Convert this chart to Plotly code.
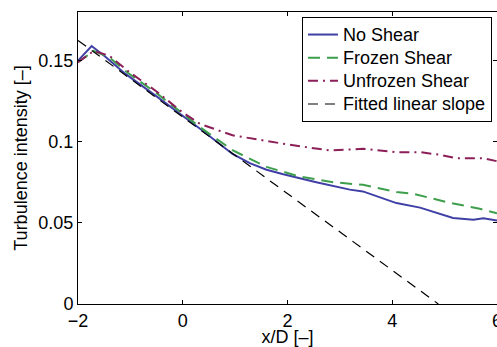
import plotly.graph_objects as go

# ---- data ----
x_no_shear = [-2, -1.74, -1.5, -1.1, -0.5, 0, 0.33, 0.95, 1.28, 1.6, 1.92, 2.55, 2.81, 3.19, 3.44, 4.08, 4.53, 5.16, 5.55, 5.74, 6]
y_no_shear = [0.150, 0.159, 0.153, 0.142, 0.128, 0.116, 0.108, 0.0925, 0.0868, 0.0828, 0.080, 0.0751, 0.0731, 0.0705, 0.0694, 0.0622, 0.0594, 0.053, 0.052, 0.0528, 0.0515]

x_frozen = [-2, -1.7, -1.4, -1.05, -0.5, 0, 0.33, 0.95, 1.6, 2.24, 2.87, 3.19, 3.44, 4.08, 4.4, 5.04, 5.67, 6]
y_frozen = [0.149, 0.156, 0.152, 0.1425, 0.130, 0.117, 0.109, 0.0948, 0.0845, 0.0785, 0.0751, 0.0741, 0.0735, 0.069, 0.068, 0.0628, 0.0587, 0.056]

x_unfrozen = [-2, -1.7, -1.4, -1.05, -0.5, 0, 0.33, 0.95, 1.92, 2.81, 3.44, 4.08, 4.53, 4.91, 5.23, 5.74, 6]
y_unfrozen = [0.149, 0.156, 0.153, 0.1437, 0.131, 0.118, 0.111, 0.104, 0.0988, 0.0946, 0.0957, 0.0936, 0.0936, 0.092, 0.0899, 0.0899, 0.088]

x_fit = [-2, 4.88]
y_fit = [0.1625, 0.0]

x_ticks = [-2, 0, 2, 4, 6]
x_tick_text = ["\u22122", "0", "2", "4", "6"]
y_ticks = [0, 0.05, 0.1, 0.15]
y_tick_text = ["0", "0.05", "0.1", "0.15"]

FONT = "Liberation Sans"


def legend_name(s):
    return '<span style="font-size:18px">' + s + '</span>'


fig = go.Figure()
fig.add_trace(go.Scatter(x=x_no_shear, y=y_no_shear, mode="lines", name=legend_name("No Shear"),
                         line=dict(color="#3f3fa6", width=2)))
fig.add_trace(go.Scatter(x=x_frozen, y=y_frozen, mode="lines", name=legend_name("Frozen Shear"),
                         line=dict(color="#3d9f4c", width=2, dash="12px,7px")))
fig.add_trace(go.Scatter(x=x_unfrozen, y=y_unfrozen, mode="lines", name=legend_name("Unfrozen Shear"),
                         line=dict(color="#8c1f58", width=2, dash="10px,5px,2px,5px")))
fig.add_trace(go.Scatter(x=x_fit, y=y_fit, mode="lines", name=legend_name("Fitted linear slope"),
                         line=dict(color="black", width=1.2, dash="10px,7px")))

axis_common = dict(showgrid=False, zeroline=False, showline=True, linecolor="black", linewidth=1,
                   mirror="ticks", ticks="inside", ticklen=4, tickcolor="black", tickwidth=1,
                   ticklabeloverflow="allow",
                   tickfont=dict(family=FONT, size=18, color="black"))

fig.update_xaxes(range=[-2, 6], tickvals=x_ticks, ticktext=x_tick_text,
                 title=dict(text="x/D [\u2013]", font=dict(family=FONT, size=18, color="black"), standoff=0),
                 **axis_common)
fig.update_yaxes(range=[0, 0.18], tickvals=y_ticks, ticktext=y_tick_text,
                 title=dict(text="Turbulence intensity [\u2013]", font=dict(family=FONT, size=18, color="black"), standoff=6),
                 **axis_common)

fig.update_layout(
    width=497, height=347,
    margin=dict(l=78, r=0, t=12, b=43, autoexpand=False),
    paper_bgcolor="white", plot_bgcolor="white",
    font=dict(family=FONT, size=18, color="black"),
    showlegend=True,
    legend=dict(x=0.988, y=0.983, xanchor="right", yanchor="top",
                bgcolor="white", bordercolor="black", borderwidth=1,
                font=dict(family=FONT, size=15.5, color="black"),
                tracegroupgap=0, itemwidth=30),
)

fig.write_html("out.html")
